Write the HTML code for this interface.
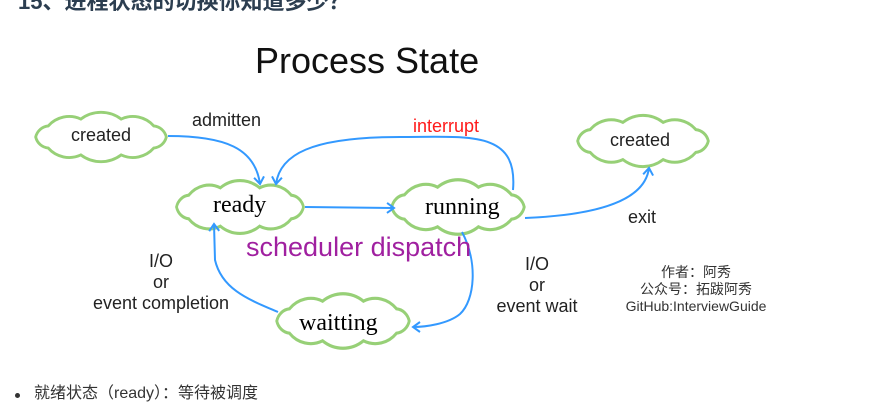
<!DOCTYPE html>
<html><head><meta charset="utf-8"><style>
html,body{margin:0;padding:0;background:#fff;width:888px;height:402px;overflow:hidden;position:relative}
.t{position:absolute;white-space:nowrap;font-family:"Liberation Sans","Noto Sans CJK SC",sans-serif;color:#222}
</style></head><body>
<div class="t" style="left:18px;top:-16px;font-size:22px;font-weight:bold;color:#2c3e50">15、进程状态的切换你知道多少？</div>
<svg width="888" height="402" style="position:absolute;left:0;top:0">
<defs>
<path id="cl" d="M46,0 A10,10 0 0 1 37.2,7.6 A20,20 0 0 1 14.2,12.4 A24,24 0 0 1 -14.2,12.4 A20,20 0 0 1 -37.2,7.6 A10,10 0 0 1 -46,0 A10,10 0 0 1 -37.2,-7.6 A20,20 0 0 1 -14.2,-12.4 A24,24 0 0 1 14.2,-12.4 A20,20 0 0 1 37.2,-7.6 A10,10 0 0 1 46,0 Z"/>
<marker id="ah" markerWidth="12" markerHeight="12" refX="9" refY="6" orient="auto" markerUnits="userSpaceOnUse"><path d="M2,1 L9,6 L2,11" fill="none" stroke="#3399ff" stroke-width="2"/></marker>
</defs>
<g fill="#fff" stroke="#97d077" stroke-width="2">
<use href="#cl" transform="translate(101,137) scale(1.42,1.45)" vector-effect="non-scaling-stroke"/>
<use href="#cl" transform="translate(240,207) scale(1.38,1.55)" vector-effect="non-scaling-stroke"/>
<use href="#cl" transform="translate(458,207) scale(1.44,1.6)" vector-effect="non-scaling-stroke"/>
<use href="#cl" transform="translate(343,321) scale(1.44,1.6)" vector-effect="non-scaling-stroke"/>
<use href="#cl" transform="translate(643,141) scale(1.42,1.5)" vector-effect="non-scaling-stroke"/>
</g>
<g fill="none" stroke="#3399ff" stroke-width="2" marker-end="url(#ah)">
<path d="M168,136 C225,136 255,148 260,184"/>
<path d="M513,190 C518,130 470,137 400,137 C310,137 280,155 276,184"/>
<path d="M305,207 L394,208"/>
<path d="M525,218 C600,215 645,200 649,168"/>
<path d="M462,232 C478,262 475,300 460,314 C448,324 425,327 413,327"/>
<path d="M278,312 C250,300 222,290 215,260 L214,224"/>
</g>
</svg>
<div class="t" style="left:255px;top:40px;font-size:36px;color:#111">Process State</div>
<div class="t" style="left:71px;top:125px;font-size:18px">created</div>
<div class="t" style="left:610px;top:130px;font-size:18px">created</div>
<div class="t" style="left:192px;top:110px;font-size:18px">admitten</div>
<div class="t" style="left:413px;top:116px;font-size:18px;color:#ff1a1a">interrupt</div>
<div class="t" style="left:213px;top:192px;font-size:24px;font-family:'Liberation Serif',serif;color:#000">ready</div>
<div class="t" style="left:425px;top:194px;font-size:24px;font-family:'Liberation Serif',serif;color:#000">running</div>
<div class="t" style="left:299px;top:310px;font-size:24px;font-family:'Liberation Serif',serif;color:#000">waitting</div>
<div class="t" style="left:246px;top:232px;font-size:27px;color:#a020a0">scheduler dispatch</div>
<div class="t" style="left:628px;top:207px;font-size:18px">exit</div>
<div class="t" style="left:90px;top:251px;font-size:18px;text-align:center;line-height:21px;width:142px">I/O<br>or<br>event completion</div>
<div class="t" style="left:493px;top:254px;font-size:18px;text-align:center;line-height:21px;width:88px">I/O<br>or<br>event wait</div>
<div class="t" style="left:620px;top:264px;font-size:14px;text-align:center;line-height:17px;width:152px;color:#333">作者：阿秀<br>公众号：拓跋阿秀<br>GitHub:InterviewGuide</div>
<div style="position:absolute;left:15px;top:393px;width:5px;height:5px;border-radius:50%;background:#333"></div>
<div class="t" style="left:34px;top:383px;font-size:16px;line-height:22px;color:#333">就绪状态（ready）：等待被调度</div>
</body></html>
